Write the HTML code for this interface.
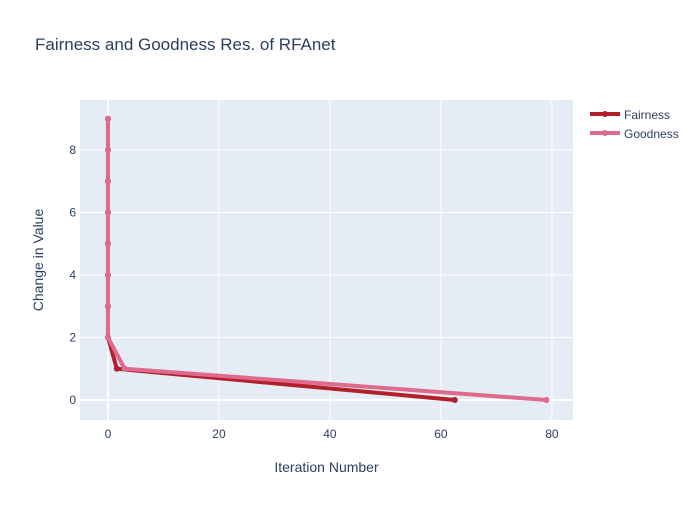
<!DOCTYPE html>
<html><head><meta charset="utf-8"><style>
body{margin:0;background:#fff;font-family:"Liberation Sans",sans-serif;}
svg text{font-family:"Liberation Sans",sans-serif;fill:#2a3f5f;}
</style></head><body>
<svg id="chart" width="700" height="500">
<rect width="700" height="500" fill="#fff"/>
<text x="35" y="50" font-size="17">Fairness and Goodness Res. of RFAnet</text>
<rect x="80" y="100" width="493" height="320" fill="#e5ecf6"/>
<g id="grid"></g>
<g id="series"></g>
<text x="326.5" y="472" font-size="14" text-anchor="middle">Iteration Number</text>
<text transform="translate(43,260) rotate(-90)" font-size="14" text-anchor="middle">Change in Value</text>
<g>
<line x1="590" y1="114" x2="620" y2="114" stroke="#b2212b" stroke-width="4"/>
<circle cx="605" cy="114" r="3" fill="#b2212b"/>
<text x="624" y="119" font-size="12">Fairness</text>
<line x1="590" y1="133" x2="620" y2="133" stroke="#de6b8d" stroke-width="4"/>
<circle cx="605" cy="133" r="3" fill="#de6b8d"/>
<text x="624" y="138" font-size="12">Goodness</text>
</g>
</svg>
<script>
const xTicks=[0,20,40,60,80];
const yTicks=[0,2,4,6,8];
const fairX=[0,0,0,0,0,0,0,0,1.6,62.5];
const fairY=[9,8,7,6,5,4,3,2,1,0];
const goodX=[0,0,0,0,0,0,0,0,3,79];
const goodY=[9,8,7,6,5,4,3,2,1,0];
const L=80,R=573,T=100,B=420,xmin=-5.04,xmax=83.8,ymin=-0.64,ymax=9.6;
const sx=v=>L+(v-xmin)/(xmax-xmin)*(R-L);
const sy=v=>B-(v-ymin)/(ymax-ymin)*(B-T);
const NS="http://www.w3.org/2000/svg";
const grid=document.getElementById('grid'),ser=document.getElementById('series');
function mk(tag,attrs,parent){const e=document.createElementNS(NS,tag);for(const k in attrs)e.setAttribute(k,attrs[k]);parent.appendChild(e);return e;}
xTicks.forEach(t=>{
 const l=mk('line',{x1:sx(t),x2:sx(t),y1:T,y2:B,stroke:'#fff','stroke-width':t===0?2:1},grid);
 
 
 const tx=mk('text',{x:sx(t),y:B+18,'font-size':12,'text-anchor':'middle'},grid);tx.textContent=t;
 
 
});
yTicks.forEach(t=>{
 const l=mk('line',{x1:L,x2:R,y1:sy(t),y2:sy(t),stroke:'#fff','stroke-width':t===0?2:1},grid);
 
 
 const tx=mk('text',{x:L-3-0,y:sy(t)+4,'font-size':12,'text-anchor':'end'},grid);tx.textContent=t;
 tx.setAttribute('x',L-4);
 
 
});
function draw(xs,ys,color,name){
 const p=mk('polyline',{points:xs.map((x,i)=>sx(x)+','+sy(ys[i])).join(' '),fill:'none',stroke:color,'stroke-width':4,'stroke-linejoin':'round'},ser);
 
 
 xs.forEach((x,i)=>{const c=mk('circle',{cx:sx(x),cy:sy(ys[i]),r:3,fill:color},ser);
  
  });
}
draw(fairX,fairY,'#b2212b','fairness');
draw(goodX,goodY,'#de6b8d','goodness');
</script>
</body></html>
